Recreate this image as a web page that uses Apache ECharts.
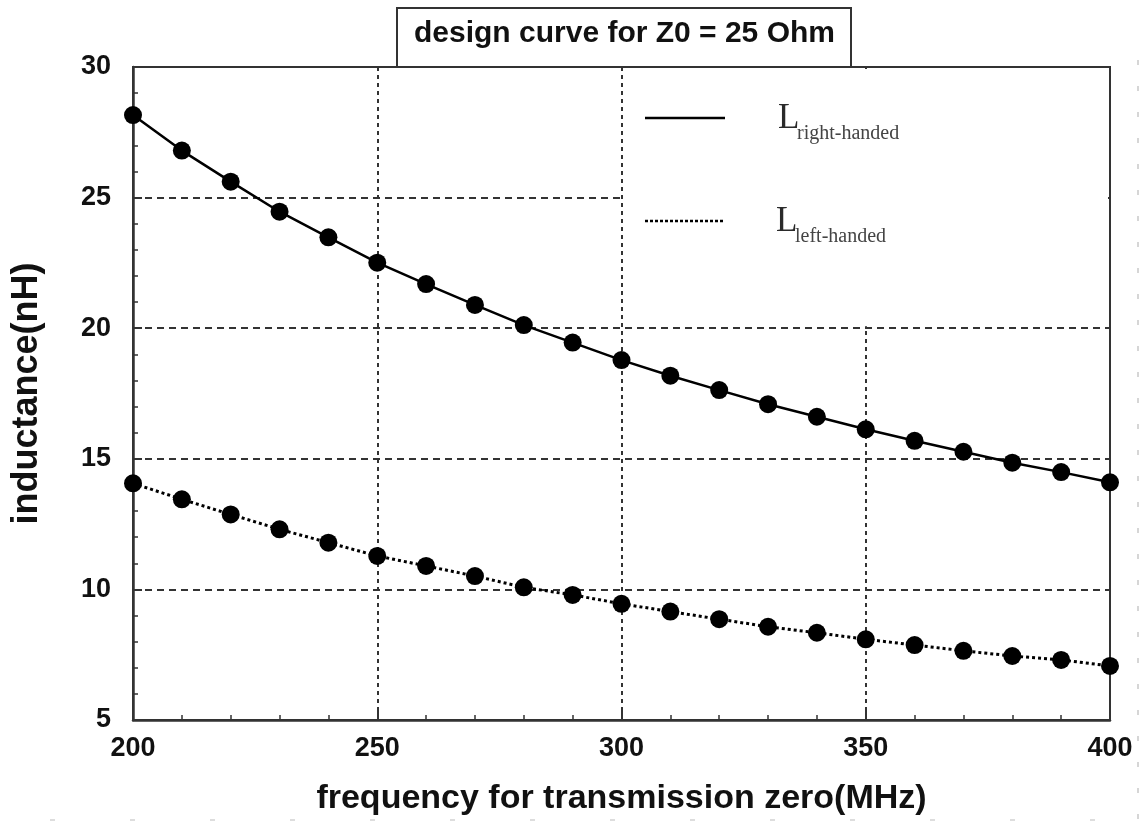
<!DOCTYPE html>
<html>
<head>
<meta charset="utf-8">
<script src="https://cdn.jsdelivr.net/npm/echarts@6/dist/echarts.min.js"></script>
<style>
  html, body { margin: 0; padding: 0; background: #fff; }
  #chart { width: 1141px; height: 823px; }
</style>
</head>
<body>
<div id="chart"></div>
<script>
// frequency of the transmission zero (MHz)
const freq = [200, 210, 220, 230, 240, 250, 260, 270, 280, 290, 300,
              310, 320, 330, 340, 350, 360, 370, 380, 390, 400];
// inductance of the right-handed section (nH)
const lRight = [28.16, 26.8, 25.61, 24.46, 23.48, 22.51, 21.69, 20.89, 20.12, 19.45, 18.78,
                18.18, 17.63, 17.09, 16.61, 16.13, 15.69, 15.27, 14.85, 14.49, 14.1];
// inductance of the left-handed section (nH)
const lLeft = [14.06, 13.45, 12.87, 12.3, 11.79, 11.28, 10.9, 10.51, 10.08, 9.79, 9.45,
               9.15, 8.86, 8.57, 8.34, 8.09, 7.87, 7.65, 7.45, 7.3, 7.07];

const xRange = { min: 200, max: 400, step: 50 };
const yRange = { min: 5, max: 30, step: 5 };

const chartTitle = 'design curve for Z0 = 25 Ohm';
const xName = 'frequency for transmission zero(MHz)';
const yName = 'inductance(nH)';

const SANS = '"Liberation Sans", Arial, sans-serif';
const SERIF = '"Liberation Serif", "Times New Roman", serif';
const INK = '#2a2a2a';

const chart = echarts.init(document.getElementById('chart'), null, { renderer: 'canvas' });

function axisCommon(range) {
  return {
    type: 'value',
    min: range.min,
    max: range.max,
    interval: range.step,
    axisLine: { show: true, lineStyle: { color: '#333', width: 2.5 } },
    axisTick: { show: true, inside: true, length: 9, lineStyle: { color: '#333', width: 2 } },
    minorTick: { show: true, splitNumber: 5, length: 5, lineStyle: { color: '#333', width: 1.5 } },
    axisLabel: { fontSize: 27, fontWeight: 'bold', fontFamily: SANS, color: '#111' },
    nameLocation: 'middle',
    nameTextStyle: { fontSize: 34, fontWeight: 'bold', fontFamily: SANS, color: '#111' }
  };
}

const xAxis = Object.assign(axisCommon(xRange), {
  name: xName,
  nameGap: 62,
  splitLine: { show: true, showMinLine: false, showMaxLine: false,
               lineStyle: { type: [4, 4], color: '#333', width: 2 } }
});
xAxis.axisLabel = Object.assign({}, xAxis.axisLabel, { margin: 15 });

const yAxis = Object.assign(axisCommon(yRange), {
  name: yName,
  nameGap: 88,
  splitLine: { show: true, showMinLine: false, showMaxLine: false,
               lineStyle: { type: [7, 5], color: '#333', width: 2 } }
});
yAxis.nameTextStyle = Object.assign({}, yAxis.nameTextStyle, { fontSize: 36 });
yAxis.axisLabel = Object.assign({}, yAxis.axisLabel, { margin: 22 });

chart.setOption({
  animation: false,
  backgroundColor: '#fff',
  title: {
    text: chartTitle,
    left: 397,
    top: 8,
    padding: [10, 16, 17, 17],
    borderColor: '#333',
    borderWidth: 2,
    backgroundColor: '#fff',
    textStyle: {
      fontSize: 30, fontWeight: 'bold', fontFamily: SANS, color: '#111', lineHeight: 32
    }
  },
  grid: {
    left: 133, right: 31, top: 67, bottom: 103,
    show: true, borderColor: '#333', borderWidth: 2, backgroundColor: 'transparent'
  },
  xAxis: xAxis,
  yAxis: yAxis,
  series: [
    {
      name: 'L right-handed',
      type: 'line',
      data: freq.map((f, i) => [f, lRight[i]]),
      symbol: 'circle',
      symbolSize: 18,
      itemStyle: { color: '#000' },
      lineStyle: { color: '#000', width: 2.5, type: 'solid' },
      z: 3
    },
    {
      name: 'L left-handed',
      type: 'line',
      data: freq.map((f, i) => [f, lLeft[i]]),
      symbol: 'circle',
      symbolSize: 18,
      itemStyle: { color: '#000' },
      lineStyle: { color: '#000', width: 3, type: [3, 3] },
      z: 3
    }
  ]
});

// Blank the upper-right corner of the plot (legend area) so no grid lines cross it,
// then draw the legend entries there.
const tl = chart.convertToPixel({ gridIndex: 0 }, [300, 30]);
const br = chart.convertToPixel({ gridIndex: 0 }, [400, 20]);

chart.setOption({
  graphic: {
    elements: [
      {
        type: 'rect', z: 1, silent: true,
        shape: { x: tl[0] + 2, y: tl[1] + 2, width: br[0] - tl[0] - 4, height: br[1] - tl[1] - 4 },
        style: { fill: '#fff' }
      },
      // legend: right-handed
      { type: 'line', z: 4, shape: { x1: 645, y1: 118, x2: 725, y2: 118 },
        style: { stroke: '#000', lineWidth: 2.5 } },
      { type: 'text', z: 4, x: 778, y: 119,
        style: { text: 'L', font: '35px ' + SERIF, fill: INK, verticalAlign: 'middle', align: 'left' } },
      { type: 'text', z: 4, x: 797, y: 134,
        style: { text: 'right-handed', font: '20px ' + SERIF, fill: '#444', verticalAlign: 'middle', align: 'left' } },
      // legend: left-handed
      { type: 'line', z: 4, shape: { x1: 645, y1: 221, x2: 725, y2: 221 },
        style: { stroke: '#000', lineWidth: 2.5, lineDash: [3, 2] } },
      { type: 'text', z: 4, x: 776, y: 222,
        style: { text: 'L', font: '35px ' + SERIF, fill: INK, verticalAlign: 'middle', align: 'left' } },
      { type: 'text', z: 4, x: 795, y: 237,
        style: { text: 'left-handed', font: '20px ' + SERIF, fill: '#444', verticalAlign: 'middle', align: 'left' } },
      // faint page-edge dashes
      { type: 'line', z: 0, silent: true, shape: { x1: 1138, y1: 60, x2: 1138, y2: 823 },
        style: { stroke: '#bbb', lineWidth: 1.2, lineDash: [5, 21] } },
      { type: 'line', z: 0, silent: true, shape: { x1: 50, y1: 820, x2: 1141, y2: 820 },
        style: { stroke: '#bbb', lineWidth: 1.2, lineDash: [5, 75] } }
    ]
  }
});
</script>
</body>
</html>
